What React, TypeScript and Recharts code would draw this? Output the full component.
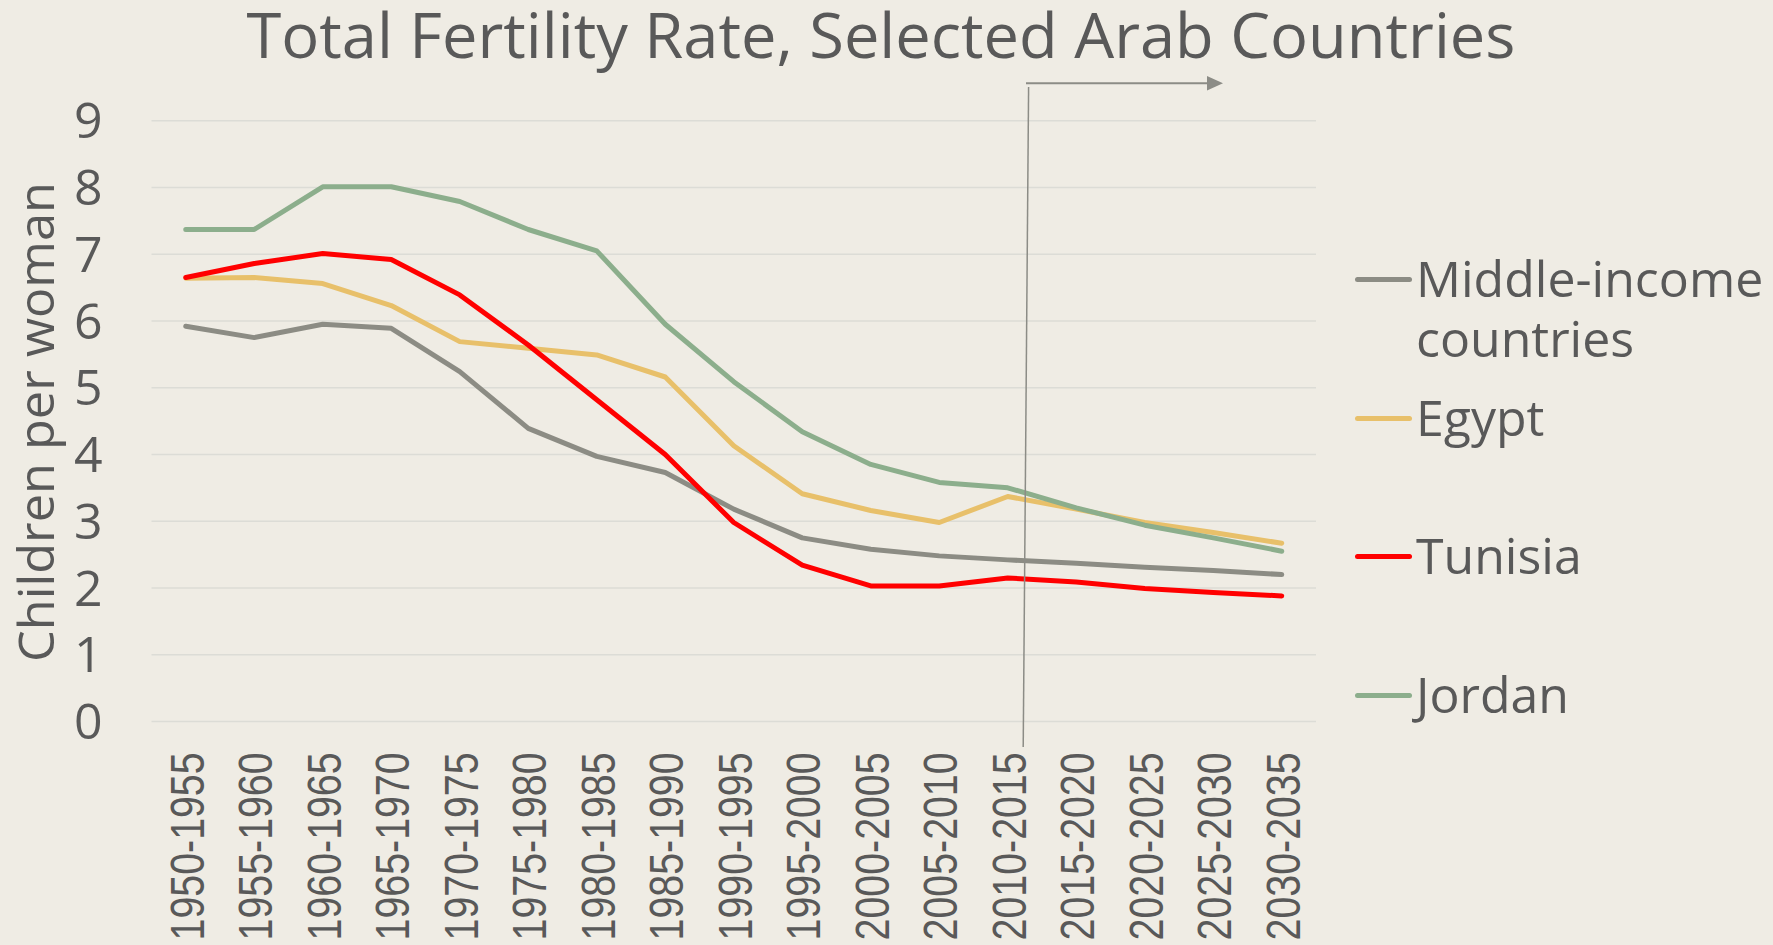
import React from 'react';
import { LineChart, Line, XAxis, YAxis, CartesianGrid, Legend } from 'recharts';

// five-year periods on the x axis
const periods = [
  '1950-1955', '1955-1960', '1960-1965', '1965-1970', '1970-1975', '1975-1980',
  '1980-1985', '1985-1990', '1990-1995', '1995-2000', '2000-2005', '2005-2010',
  '2010-2015', '2015-2020', '2020-2025', '2025-2030', '2030-2035',
];

const middleIncome = [5.92, 5.75, 5.95, 5.89, 5.24, 4.39, 3.97, 3.73, 3.18, 2.75, 2.58, 2.48, 2.42, 2.37, 2.31, 2.26, 2.2];
const egypt = [6.64, 6.65, 6.56, 6.23, 5.69, 5.59, 5.49, 5.16, 4.13, 3.41, 3.16, 2.98, 3.37, 3.18, 2.98, 2.83, 2.67];
const tunisia = [6.65, 6.86, 7.01, 6.92, 6.39, 5.64, 4.82, 4.0, 2.98, 2.34, 2.03, 2.03, 2.15, 2.09, 1.99, 1.93, 1.88];
const jordan = [7.37, 7.37, 8.01, 8.01, 7.79, 7.37, 7.05, 5.95, 5.09, 4.34, 3.85, 3.58, 3.5, 3.2, 2.94, 2.75, 2.55];

const seriesNames = ['Middle-income countries', 'Egypt', 'Tunisia', 'Jordan'];
const yTicks = [0, 1, 2, 3, 4, 5, 6, 7, 8, 9];

const data = periods.map((period, i) => ({
  period,
  middle: middleIncome[i],
  egypt: egypt[i],
  tunisia: tunisia[i],
  jordan: jordan[i],
}));

const TEXT = '#595959';
const BG = '#efece4';
const FONT = "'Open Sans', sans-serif";

const XTick = (props: any) => {
  const { x, y, payload } = props;
  return (
    <text
      transform={`translate(${x + 18},${y + 31}) rotate(-90)`}
      textAnchor="end"
      fontFamily="'Liberation Sans', sans-serif"
      fontSize={48}
      textLength={188}
      lengthAdjust="spacingAndGlyphs"
      fill={TEXT}
    >
      {payload.value}
    </text>
  );
};

const LegendContent = (props: any) => {
  const items = [...(props.payload || [])].sort(
    (a: any, b: any) => seriesNames.indexOf(a.value) - seriesNames.indexOf(b.value)
  );
  return (
    <div>
      {items.map((item: any) => (
        <div key={item.value} style={{ display: 'flex', alignItems: 'flex-start', height: 138.7 }}>
          <div
            style={{
              width: 57,
              height: 5,
              borderRadius: 2.5,
              background: item.color,
              marginTop: 29,
              flex: 'none',
            }}
          />
          <div
            style={{
              marginLeft: 4,
              fontFamily: FONT,
              fontSize: 50,
              lineHeight: '60px',
              color: TEXT,
              whiteSpace: 'pre',
            }}
          >
            {String(item.value).replace(' ', '\n')}
          </div>
        </div>
      ))}
    </div>
  );
};

const lineProps = {
  strokeWidth: 5,
  dot: false,
  activeDot: false,
  strokeLinecap: 'round' as const,
  strokeLinejoin: 'round' as const,
  isAnimationActive: false,
};

const App = () => {
  return (
    <div style={{ position: 'absolute', left: 0, top: 0, width: 1773, height: 945, background: BG, overflow: 'hidden' }}>
      <LineChart
        width={1773}
        height={945}
        data={data}
        margin={{ top: 120.7, right: 457, bottom: 23.6, left: 71.5 }}
      >
        <CartesianGrid vertical={false} stroke="#dcdcd6" strokeWidth={1.5} />
        <XAxis
          dataKey="period"
          interval={0}
          height={200}
          axisLine={false}
          tickLine={false}
          tickSize={0}
          tickMargin={0}
          padding={{ left: 34.25, right: 34.25 }}
          tick={<XTick />}
        />
        <YAxis
          domain={[0, 9]}
          ticks={yTicks}
          width={80}
          axisLine={false}
          tickLine={false}
          tickSize={0}
          tickMargin={49}
          tick={{ fill: TEXT, fontSize: 50, fontFamily: FONT }}
        />
        <Legend
          layout="vertical"
          align="center"
          verticalAlign="middle"
          content={<LegendContent />}
          wrapperStyle={{ left: 1355, top: 248, width: 418 }}
        />
        <Line name={seriesNames[0]} dataKey="middle" stroke="#8c8c84" {...lineProps} />
        <Line name={seriesNames[1]} dataKey="egypt" stroke="#e8c06a" {...lineProps} />
        <Line name={seriesNames[2]} dataKey="tunisia" stroke="#ff0000" {...lineProps} />
        <Line name={seriesNames[3]} dataKey="jordan" stroke="#8cae8c" {...lineProps} />
      </LineChart>
      <svg
        width={1773}
        height={945}
        style={{ position: 'absolute', left: 0, top: 0, pointerEvents: 'none' }}
      >
        <text
          x={881}
          y={58}
          textAnchor="middle"
          fontFamily={FONT}
          fontSize={62}
          textLength={1269}
          lengthAdjust="spacingAndGlyphs"
          fill={TEXT}
        >
          Total Fertility Rate, Selected Arab Countries
        </text>
        <text
          transform="translate(54,422) rotate(-90)"
          textAnchor="middle"
          fontFamily={FONT}
          fontSize={50}
          textLength={480}
          lengthAdjust="spacingAndGlyphs"
          fill={TEXT}
        >
          Children per woman
        </text>
        {/* projection marker */}
        <line x1={1028.6} y1={87} x2={1023.2} y2={747} stroke="#8c8c86" strokeWidth={1.5} />
        <line x1={1026} y1={83.3} x2={1209} y2={83.3} stroke="#8c8c86" strokeWidth={2} />
        <polygon points="1207,76 1223,83.3 1207,90.6" fill="#8c8c86" />
      </svg>
    </div>
  );
};

export default App;
